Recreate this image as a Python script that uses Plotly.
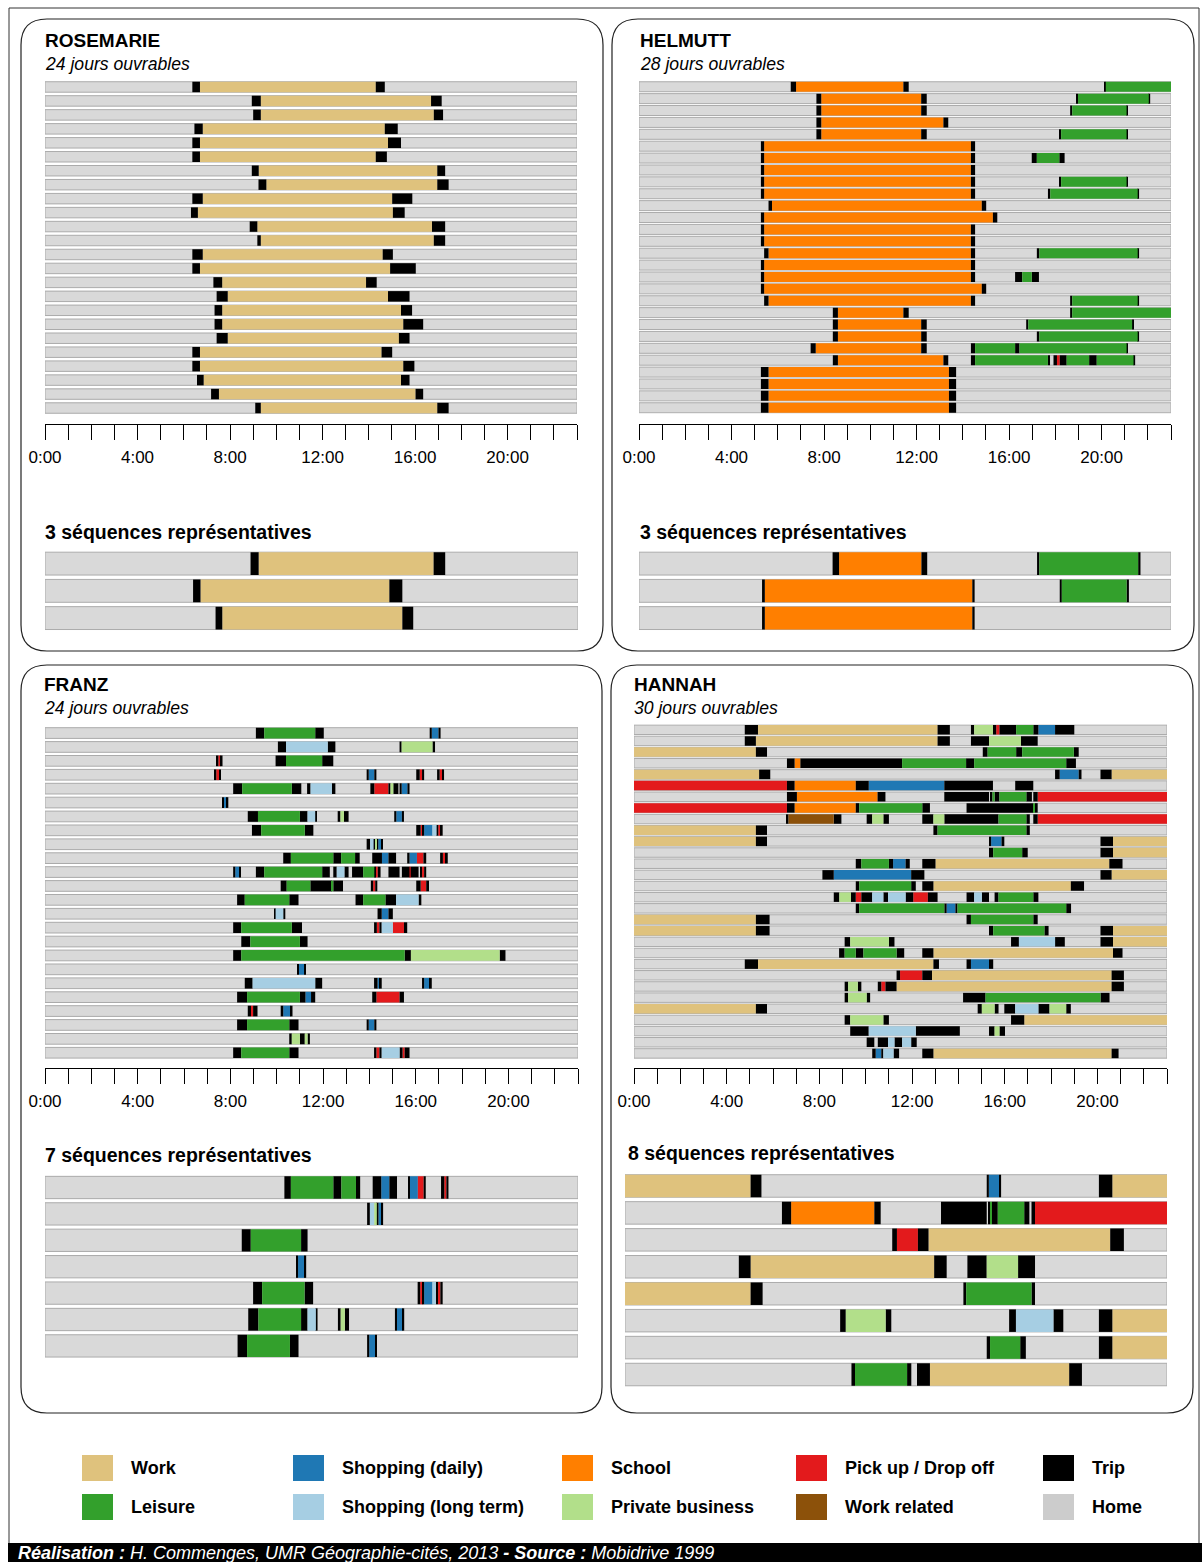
import re
import plotly.graph_objects as go

W, H = 1202, 1562
HOURS = 23.0
FONT = "Liberation Sans, Arial, sans-serif"

# activity codes, legend labels and colours
ACTIVITIES = ["W", "SD", "SC", "PU", "T", "L", "SL", "PB", "WR"]
COLORS = {"W": "#dfc27d", "SD": "#1f78b4", "SC": "#ff7f00", "PU": "#e31a1c",
          "T": "#000000", "L": "#33a02c", "SL": "#a6cee3", "PB": "#b2df8a",
          "WR": "#8c510a", "H": "#cccccc"}
LEGEND_ROW1 = [("W", "Work"), ("SD", "Shopping (daily)"), ("SC", "School"),
               ("PU", "Pick up / Drop off"), ("T", "Trip")]
LEGEND_ROW2 = [("L", "Leisure"), ("SL", "Shopping (long term)"), ("PB", "Private business"),
               ("WR", "Work related"), ("H", "Home")]

TICK_HOURS = list(range(24))
TICK_TEXT = [f"{h}:00" if h % 4 == 0 else "" for h in TICK_HOURS]

# each day: "CODE start" tokens, an activity lasts until the next token (H = home)
ROSEMARIE_DAYS = [
    "T6.37 W6.70 T14.30 H14.69", "T8.94 W9.33 T16.69 H17.15", "T9.00 W9.33 T16.81 H17.21",
    "T6.46 W6.82 T14.69 H15.25", "T6.37 W6.70 T14.83 H15.39", "T6.37 W6.70 T14.30 H14.78",
    "T8.94 W9.24 T16.96 H17.30", "T9.23 W9.57 T16.96 H17.45", "T6.37 W6.82 T15.01 H15.88",
    "T6.31 W6.61 T15.04 H15.55", "T8.85 W9.18 T16.73 H17.30", "T9.18 W9.33 T16.81 H17.30",
    "T6.37 W6.82 T14.60 H15.04", "T6.37 W6.70 T14.92 H16.03", "T7.28 W7.66 T13.88 H14.34",
    "T7.42 W7.90 T14.83 H15.76", "T7.33 W7.66 T15.39 H15.87", "T7.33 W7.66 T15.49 H16.35",
    "T7.42 W7.90 T15.30 H15.76", "T6.37 W6.70 T14.55 H15.01", "T6.37 W6.70 T15.49 H15.97",
    "T6.57 W6.86 T15.39 H15.76", "T7.18 W7.52 T16.02 H16.35", "T9.09 W9.33 T16.96 H17.45",
]
ROSEMARIE_REPS = [
    "T8.87 W9.22 T16.77 H17.27",
    "T6.39 W6.71 T14.86 H15.42",
    "T7.36 W7.65 T15.42 H15.89",
]

HELMUTT_DAYS = [
    "T6.56 SC6.79 T11.43 H11.66 T20.12 L20.18",
    "T7.67 SC7.88 T12.20 H12.44 T18.92 L18.98 T22.04 H22.10",
    "T7.67 SC7.88 T12.20 H12.44 T18.64 L18.73 T21.08 H21.13",
    "T7.67 SC7.88 T13.16 H13.37",
    "T7.67 SC7.88 T12.20 H12.44 T18.17 L18.25 T21.08 H21.13",
    "T5.27 SC5.41 T14.35 H14.53",
    "T5.27 SC5.41 T14.35 H14.53 T16.98 L17.20 T18.17 H18.40",
    "T5.27 SC5.41 T14.35 H14.53",
    "T5.27 SC5.41 T14.35 H14.53 T18.17 L18.25 T21.08 H21.13",
    "T5.27 SC5.41 T14.35 H14.53 T17.68 L17.78 T21.56 H21.62",
    "T5.60 SC5.75 T14.82 H15.01",
    "T5.27 SC5.41 T15.30 H15.49",
    "T5.27 SC5.41 T14.35 H14.53",
    "T5.27 SC5.41 T14.35 H14.53",
    "T5.41 SC5.60 T14.35 H14.53 T17.20 L17.31 T21.56 H21.62",
    "T5.27 SC5.41 T14.35 H14.53",
    "T5.27 SC5.41 T14.35 H14.53 T16.26 L16.57 T16.98 H17.29",
    "T5.27 SC5.41 T14.82 H15.01",
    "T5.41 SC5.60 T14.35 H14.53 T18.64 L18.73 T21.56 H21.62",
    "T8.38 SC8.60 T11.43 H11.66 T18.64 L18.73",
    "T8.38 SC8.60 T12.20 H12.44 T16.74 L16.83 T21.32 H21.38",
    "T8.38 SC8.60 T12.20 H12.44 T17.20 L17.31 T21.56 H21.62",
    "T7.42 SC7.64 T12.20 H12.44 T14.35 L14.53 T16.26 L16.45 T21.08 H21.13",
    "T8.38 SC8.60 T13.16 H13.37 T14.35 L14.53 T17.68 H17.77 T17.92 PU18.07 T18.19 L18.49 T19.46 L19.79 T21.38 H21.45",
    "T5.27 SC5.60 T13.40 H13.71",
    "T5.27 SC5.60 T13.40 H13.71",
    "T5.27 SC5.60 T13.40 H13.71",
    "T5.27 SC5.60 T13.40 H13.71",
]
HELMUTT_REPS = [
    "T8.37 SC8.65 T12.21 H12.46 T17.21 L17.31 T21.58 H21.68",
    "T5.32 SC5.44 T14.41 H14.51 T18.19 L18.28 T21.08 H21.18",
    "T5.32 SC5.44 T14.41 H14.51",
]

FRANZ_DAYS = [
    "T9.10 L9.46 T11.66 H12.03 T16.60 SD16.69 T16.98 H17.07",
    "T10.05 SL10.40 T12.20 H12.53 T15.30 PB15.39 T16.72 H16.83",
    "T7.42 PU7.48 T7.58 H7.66 T9.95 L10.40 T11.96 H12.44",
    "T7.33 PU7.39 T7.51 H7.57 T13.88 SD13.97 T14.21 H14.30 T16.02 PU16.17 T16.27 H16.36 T16.92 PU17.03 T17.15 H17.22",
    "T8.12 L8.51 T10.65 H11.06 T11.31 SL11.46 T12.38 H12.53 T14.04 PU14.21 T14.82 PB14.91 T15.03 H15.25 T15.30 SD15.39 T15.64 H15.73",
    "T7.64 SD7.72 T7.84 H7.91",
    "T8.75 L9.19 T11.00 SL11.33 T11.66 H11.70 T12.63 PB12.75 T12.90 H13.10 T15.07 SD15.16 T15.40 H15.49",
    "T8.93 L9.33 T11.21 H11.58 T16.02 PU16.21 T16.30 SD16.36 SL16.72 T16.90 PU16.97 T17.08 H17.16",
    "T13.88 SL14.03 T14.18 PB14.24 T14.31 SD14.38 T14.50 H14.58",
    "T10.28 L10.61 T12.44 L12.78 T13.38 H13.58 T14.12 SD14.54 T14.82 H15.15 T15.63 SD15.73 PU16.05 T16.33 H16.45 T17.05 PU17.17 T17.26 H17.38",
    "T8.12 SD8.21 T8.39 H8.45 T9.10 L9.46 T11.96 H12.29 T12.44 SL12.59 T12.92 H13.10 T13.25 L13.73 T14.21 PU14.28 T14.36 H14.48 T14.82 H15.30 T15.40 PU15.73 T15.78 H16.12 T16.21 PU16.27 T16.36 H16.45",
    "T10.17 L10.43 T11.45 L12.38 T12.44 H12.86 T14.06 PU14.16 T14.25 H14.34 T16.02 PU16.21 T16.45 H16.57",
    "T8.29 L8.62 T10.54 H10.94 T13.40 L13.73 T14.69 SL15.15 T16.12 H16.24",
    "T9.89 SL9.95 T10.28 H10.37 T14.35 SD14.53 T14.82 H15.01",
    "T8.12 L8.47 T10.65 H11.09 T14.20 PU14.32 T14.43 SL14.53 PU15.01 T15.49 H15.63",
    "T8.47 L8.86 T11.00 H11.33",
    "T8.12 L8.47 T15.52 PB15.79 T19.62 H19.87",
    "T10.88 SD10.96 T11.18 H11.24",
    "T8.62 SL8.96 T11.66 H11.96 T14.20 SD14.35 T14.45 H14.53 T16.27 SD16.36 T16.61 H16.69",
    "T8.29 L8.72 T11.00 SD11.24 T11.48 H11.66 T14.12 PU14.30 T15.30 H15.49",
    "T8.75 PU8.89 T8.98 H9.17 T10.17 SD10.28 T10.61 H10.68",
    "T8.29 L8.72 T10.54 H10.94 T13.88 SD13.97 T14.21 H14.30",
    "T10.54 PB10.65 T11.00 PB11.21 T11.33 H11.43",
    "T8.12 L8.47 T10.54 H10.94 T14.20 PU14.30 T14.43 SL14.53 T15.30 PU15.43 T15.52 H15.73",
]
FRANZ_REPS = [
    "T10.33 L10.61 T12.44 L12.79 T13.42 H13.60 T14.14 SD14.51 T14.86 H15.19 T15.67 SD15.73 PU16.09 T16.34 H16.43 T17.09 PU17.23 T17.32 H17.41",
    "T13.90 SL14.02 PB14.21 T14.32 SD14.39 T14.51 H14.59",
    "T8.49 L8.88 T11.05 H11.33",
    "T10.86 SD10.92 T11.20 H11.27",
    "T8.98 L9.37 T11.20 H11.57 T16.08 PU16.19 T16.31 SD16.36 SL16.72 T16.87 PU16.96 T17.06 H17.16",
    "T8.77 L9.21 T11.05 SL11.33 T11.69 H11.76 T12.64 PB12.76 T12.94 H13.12 T15.10 SD15.19 T15.44 H15.50",
    "T8.31 L8.72 T10.57 H10.94 T13.90 SD13.99 T14.24 H14.30",
]

HANNAH_DAYS = [
    "T4.78 W5.35 T13.10 H13.63 T14.54 PB14.68 T15.49 PU15.63 T15.77 L16.49 T17.23 SD17.45 T18.17 H19.00",
    "T4.78 W5.26 T13.10 H13.63 T14.54 PB15.32 T16.70 H17.42",
    "W0 T5.26 H5.74 T15.05 L15.26 T16.49 L16.75 T18.98 H19.19",
    "T6.60 SC6.93 T7.18 L11.57 T14.33 L14.68 T18.65 H19.07",
    "W0 T5.40 H5.88 T18.17 SD18.37 T19.19 H19.31 T20.13 W20.61",
    "PU0 T6.60 SC6.93 T9.57 SD10.13 T13.39 H15.49 T16.45 H17.23",
    "T6.60 SC7.03 T10.51 H10.85 T13.39 H15.32 T15.40 L15.47 T15.56 L15.77 T16.93 H17.17 T17.23 PU17.42",
    "PU0 T6.60 SC6.93 T9.57 L9.72 T12.44 H12.77 T14.35 L17.23 T17.30 H17.42",
    "T6.60 WR6.67 T8.62 H8.95 T10.04 PB10.28 T10.76 H11.00 T12.44 PB12.92 T13.39 L15.73 T16.93 H17.08 T17.23 PU17.42",
    "W0 T5.26 H5.74 T12.92 L13.10 T16.93 H17.08",
    "W0 T5.26 H5.74 T15.32 SD15.41 T15.86 H15.98 T20.13 W20.67",
    "T15.32 L15.50 T16.75 H16.99 T20.13 W20.67",
    "T9.57 L9.81 T11.00 SD11.18 T11.72 H11.90 T12.44 W13.01 T20.51 H21.08",
    "T8.13 SD8.62 T11.96 H12.53 T20.13 W20.61",
    "T9.57 L9.72 T11.96 H12.16 T12.44 W12.92 T18.85 H19.42",
    "T8.62 PB8.86 T9.36 PU9.57 T9.81 SL10.28 T10.76 SL10.96 T11.72 PU12.05 T12.68 H13.10 T14.35 SL14.68 T15.01 H15.32 T15.56 L15.73 T17.23 H17.45",
    "T9.57 L9.72 T13.39 SD13.49 T13.87 L13.96 T18.65 H18.86",
    "W0 T5.26 H5.85 T14.35 L14.54 T17.23 H17.42",
    "W0 T5.26 H5.85 T15.32 L15.50 T17.71 H17.89 T20.13 W20.67",
    "T9.09 PB9.33 T11.00 H11.24 T16.27 SL16.61 T18.17 H18.59 T20.13 W20.67",
    "T8.85 L9.09 T9.57 L9.90 T11.33 H11.66 T12.44 W12.92 T20.67 H21.08",
    "T4.78 W5.35 T12.92 H13.16 T14.35 SD14.54 T15.32 H15.50",
    "T11.33 PU11.48 T12.44 W12.86 T20.61 H21.14",
    "T9.09 PB9.24 T9.66 H9.81 T10.52 PU10.67 T10.85 W11.33 T20.61 H21.14",
    "T9.09 PB9.24 T10.04 H10.19 T14.20 L15.17 T20.13 H20.52",
    "W0 T5.26 H5.74 T14.83 PB15.01 T15.56 H15.73 T15.98 SL16.45 T17.45 PB17.93 T18.65 H18.85",
    "T9.09 PB9.33 T10.76 H11.00 T16.27 W16.84",
    "T9.33 SL10.13 T12.16 H14.06 T15.32 PB15.56 T15.77 H16.01",
    "T10.04 H10.37 T10.52 SL10.96 T11.24 SL11.57 T11.96 H12.20",
    "T10.28 SD10.43 T10.67 SL10.76 T11.20 H11.44 T12.44 W12.92 T20.61 H20.91",
]
HANNAH_REPS = [
    "W0 T5.33 H5.79 T15.35 SD15.44 T15.88 H15.96 T20.11 W20.68",
    "T6.66 SC7.05 T10.58 H10.85 T13.41 H15.35 T15.43 L15.49 T15.57 L15.82 T16.94 H17.16 T17.25 PU17.40",
    "T11.34 PU11.54 T12.43 W12.88 T20.59 H21.17",
    "T4.83 W5.33 T13.12 H13.65 T14.53 PB15.35 T16.68 H17.40",
    "W0 T5.33 H5.84 T14.36 L14.48 T17.25 H17.40",
    "T9.13 PB9.37 T11.06 H11.30 T16.30 SL16.59 T18.18 H18.60 T20.11 W20.68",
    "T15.35 L15.49 T16.77 H17.01 T20.11 W20.68",
    "T9.61 L9.76 T11.97 H12.15 T12.39 W12.94 T18.85 H19.39",
]


def px(x):
    return x / W


def py(y):
    return 1 - y / H


def parse(seq):
    toks = [(m.group(1), float(m.group(2))) for m in re.finditer(r"([A-Z]+)([\d.]+)", seq)]
    segs = []
    for i, (code, start) in enumerate(toks):
        end = toks[i + 1][1] if i + 1 < len(toks) else HOURS
        if code != "H":
            segs.append((code, start, end))
    return segs


fig = go.Figure()
layout = dict(width=W, height=H, margin=dict(l=0, r=0, t=0, b=0), template="none",
              barmode="overlay", showlegend=False, paper_bgcolor="white",
              plot_bgcolor="white", font=dict(family=FONT, color="black"))
annotations, shapes = [], []


def add_block(n, rows, xs, ys, width, axis_y=None):
    xa, ya = f"x{n}", f"y{n}"
    k = len(rows)
    fig.add_trace(go.Bar(y=list(range(k)), x=[HOURS] * k, base=[0] * k, orientation="h",
                         width=width, xaxis=xa, yaxis=ya, hoverinfo="skip",
                         marker=dict(color="#d9d9d9", line=dict(color="#ababab", width=1))))
    per = {c: ([], [], []) for c in ACTIVITIES}
    for i, seq in enumerate(rows):
        for code, s, e in parse(seq):
            per[code][0].append(i)
            per[code][1].append(s)
            per[code][2].append(e - s)
    for code in ACTIVITIES:
        yy, bb, ww = per[code]
        if yy:
            fig.add_trace(go.Bar(y=yy, x=ww, base=bb, orientation="h", width=width,
                                 xaxis=xa, yaxis=ya, hoverinfo="skip",
                                 marker=dict(color=COLORS[code], line=dict(width=0))))
    xax = dict(domain=[px(xs[0]), px(xs[1])], range=[0, HOURS], showgrid=False,
               zeroline=False, automargin=False, fixedrange=True)
    if axis_y is None:
        xax.update(visible=False, anchor=ya)
    else:
        xax.update(anchor="free", position=py(axis_y), showline=True, linecolor="black",
                   linewidth=1, ticks="outside", ticklen=15, tickwidth=1, tickcolor="black",
                   tickvals=TICK_HOURS, ticktext=TICK_TEXT, ticklabelstandoff=3,
                   tickfont=dict(family=FONT, size=17, color="black"))
    layout["xaxis" if n == 1 else f"xaxis{n}"] = xax
    layout["yaxis" if n == 1 else f"yaxis{n}"] = dict(
        domain=[py(ys[1]), py(ys[0])], range=[k - 0.5, -0.5], visible=False,
        anchor=xa, automargin=False, fixedrange=True)


def rrect(x0, y0, x1, y1, r):
    pts = [("M", x0 + r, y0), ("L", x1 - r, y0), ("Q", x1, y0, x1, y0 + r),
           ("L", x1, y1 - r), ("Q", x1, y1, x1 - r, y1), ("L", x0 + r, y1),
           ("Q", x0, y1, x0, y1 - r), ("L", x0, y0 + r), ("Q", x0, y0, x0 + r, y0)]
    out = []
    for p in pts:
        cmd, vals = p[0], p[1:]
        coords = " ".join(f"{px(vals[j]):.5f},{py(vals[j + 1]):.5f}" for j in range(0, len(vals), 2))
        out.append(f"{cmd} {coords}")
    return " ".join(out) + " Z"


def text(x, y, s, size, color="black"):
    # annotations add ~2px of padding on the left
    annotations.append(dict(x=px(x - 2), y=py(y), xref="paper", yref="paper", text=s,
                            showarrow=False, xanchor="left", yanchor="middle",
                            font=dict(family=FONT, size=size, color=color)))


panels = [
    dict(name="ROSEMARIE", days=ROSEMARIE_DAYS, reps=ROSEMARIE_REPS, box=(21, 19, 603, 651),
         tx=45, ty=41, dx=(45, 577), dy=(80, 415), dw=0.75, ax=424,
         rx=(45, 578), ry=(550, 631.7), rw=0.84, rtx=45, rty=532),
    dict(name="HELMUTT", days=HELMUTT_DAYS, reps=HELMUTT_REPS, box=(612, 19, 1194, 651),
         tx=640, ty=41, dx=(639, 1171), dy=(80.8, 413.7), dw=0.84, ax=424,
         rx=(639, 1171), ry=(550, 631.7), rw=0.84, rtx=640, rty=532),
    dict(name="FRANZ", days=FRANZ_DAYS, reps=FRANZ_REPS, box=(21, 665, 602, 1413),
         tx=44, ty=685, dx=(45, 578), dy=(726.1, 1059.7), dw=0.77, ax=1068,
         rx=(45, 578), ry=(1174.3, 1359.1), rw=0.845, rtx=45, rty=1155),
    dict(name="HANNAH", days=HANNAH_DAYS, reps=HANNAH_REPS, box=(611, 665, 1193, 1413),
         tx=634, ty=685, dx=(634, 1167), dy=(724.2, 1059), dw=0.85, ax=1068,
         rx=(625, 1167), ry=(1172.5, 1388), rw=0.835, rtx=628, rty=1153),
]

for i, p in enumerate(panels):
    add_block(2 * i + 1, p["days"], p["dx"], p["dy"], p["dw"], axis_y=p["ax"])
    add_block(2 * i + 2, p["reps"], p["rx"], p["ry"], p["rw"])
    shapes.append(dict(type="path", xref="paper", yref="paper", path=rrect(*p["box"], 26),
                       line=dict(color="#222222", width=1.2)))
    text(p["tx"], p["ty"], f"<b>{p['name']}</b>", 19)
    text(p["tx"], p["ty"] + 23, f"<i>{len(p['days'])} jours ouvrables</i>", 17.6)
    text(p["rtx"], p["rty"], f"<b>{len(p['reps'])} séquences représentatives</b>", 19.5)

# outer frame and footer band
shapes.append(dict(type="rect", xref="paper", yref="paper", x0=px(9), x1=px(1199),
                   y0=py(1545), y1=py(8), line=dict(color="#333333", width=1)))
shapes.append(dict(type="rect", xref="paper", yref="paper", x0=px(8), x1=px(1202),
                   y0=py(1562), y1=py(1543), fillcolor="black", line=dict(width=0)))
text(18, 1553, "<b><i>Réalisation :</i></b><i> H. Commenges, UMR Géographie-cités, 2013 </i>"
     "<b><i>- Source :</i></b><i> Mobidrive 1999</i>", 18, color="white")

# legend
col_x = [82, 293, 562, 796, 1043]
for row, (items, yc) in enumerate([(LEGEND_ROW1, 1468), (LEGEND_ROW2, 1507)]):
    for (code, label), x in zip(items, col_x):
        shapes.append(dict(type="rect", xref="paper", yref="paper", x0=px(x), x1=px(x + 31),
                           y0=py(yc + 13), y1=py(yc - 13), fillcolor=COLORS[code],
                           line=dict(width=0)))
        text(x + 49, yc, f"<b>{label}</b>", 18)

layout["annotations"] = annotations
layout["shapes"] = shapes
fig.update_layout(**layout)

fig.write_html("out.html", config={"displayModeBar": False},
               post_script="document.body.style.margin='0';")
